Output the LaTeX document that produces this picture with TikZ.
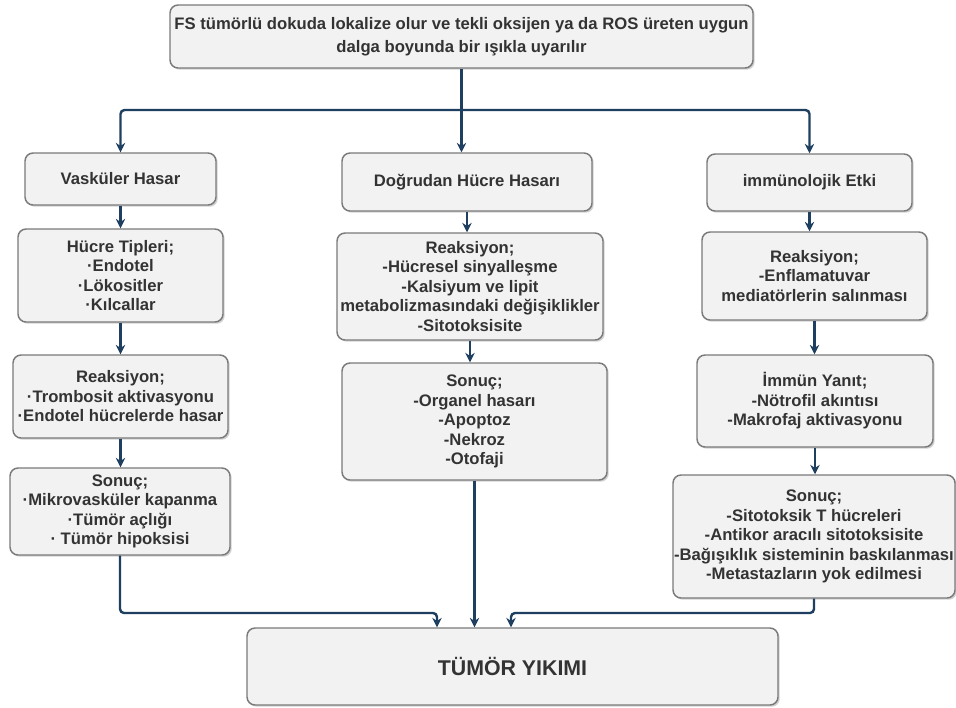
\documentclass[tikz,border=0pt]{standalone}
\usepackage{fontspec}
\setmainfont{Liberation Sans}
\usetikzlibrary{arrows.meta,shadows}
\definecolor{lacivert}{HTML}{1F3F60}
\definecolor{kutuici}{HTML}{F2F2F2}
\definecolor{kutucizgi}{HTML}{7A7A7A}
\definecolor{yazi}{HTML}{333333}
\tikzset{
  kutu/.style={draw=kutucizgi, fill=kutuici, line width=1.1pt, rounded corners=6pt,
    align=center, text=yazi, inner sep=0pt,
    font=\bfseries\fontsize{12.5}{14.6}\selectfont,
    drop shadow={shadow xshift=1.3pt, shadow yshift=-1.3pt, fill=black!35}},
  boyut/.style 2 args={minimum width=#1*0.75pt, minimum height=#2*0.75pt},
  ok/.style={->, draw=lacivert, line width=1.8pt, rounded corners=3pt}
}
\begin{document}
\begin{tikzpicture}[x=0.75pt, y=-0.75pt, >={Stealth[length=7pt,width=7pt]}]
\useasboundingbox (0,0) rectangle (956,707);
\fill[white] (0,0) rectangle (956,707);
\node[kutu, boyut={583}{63}, font=\bfseries\fontsize{12.5}{17}\selectfont] (top) at (461.5,36.5)
  {FS tümörlü dokuda lokalize olur ve tekli oksijen ya da ROS üreten uygun\\dalga boyunda bir ışıkla uyarılır};
\node[kutu, boyut={191}{52}] (vas) at (120.5,179) {Vasküler Hasar};
\node[kutu, boyut={250}{58}] (dog) at (467,182) {Doğrudan Hücre Hasarı};
\node[kutu, boyut={205}{57}] (imm) at (809.5,182.5) {immünolojik Etki};
\node[kutu, boyut={205}{93}] (hucre) at (120.5,275.5) {Hücre Tipleri;\\·Endotel\\·Lökositler\\·Kılcallar};
\node[kutu, boyut={215}{83}] (reakL) at (120.5,396.5) {Reaksiyon;\\·Trombosit aktivasyonu\\·Endotel hücrelerde hasar};
\node[kutu, boyut={220}{87}] (sonucL) at (120,511.5) {Sonuç;\\·Mikrovasküler kapanma\\·Tümör açlığı\\· Tümör hipoksisi};
\node[kutu, boyut={266}{107}] (reakM) at (470,286.5) {Reaksiyon;\\-Hücresel sinyalleşme\\-Kalsiyum ve lipit\\metabolizmasındaki değişiklikler\\-Sitotoksisite};
\node[kutu, boyut={265}{117}] (sonucM) at (474.5,421.5) {Sonuç;\\-Organel hasarı\\-Apoptoz\\-Nekroz\\-Otofaji};
\node[kutu, boyut={225}{88}] (reakR) at (814.5,276) {Reaksiyon;\\-Enflamatuvar\\mediatörlerin salınması};
\node[kutu, boyut={236}{92}] (immun) at (815,401) {İmmün Yanıt;\\-Nötrofil akıntısı\\-Makrofaj aktivasyonu};
\node[kutu, boyut={282}{123}] (sonucR) at (814,536.5) {Sonuç;\\-Sitotoksik T hücreleri\\-Antikor aracılı sitotoksisite\\-Bağışıklık sisteminin baskılanması\\-Metastazların yok edilmesi};
\node[kutu, boyut={531}{77}, font=\bfseries\fontsize{16}{19}\selectfont] (final) at (512.5,666.5) {TÜMÖR YIKIMI};
\coordinate (ayrim) at (461.5,110);
\coordinate (solgiris) at (437,613);
\coordinate (saggiris) at (511,613);
\draw[ok, -] (top) -- (ayrim);
\draw[ok] (ayrim) -| (vas);
\draw[ok] (ayrim) -| (imm);
\draw[ok] (ayrim) -- (ayrim |- dog.north);
\draw[ok] (vas) -- (vas |- hucre.north);
\draw[ok] (hucre) -- (hucre |- reakL.north);
\draw[ok] (reakL) -- (reakL |- sonucL.north);
\draw[ok] (dog) -- (dog |- reakM.north);
\draw[ok] (reakM) -- (reakM |- sonucM.north);
\draw[ok] (imm) -- (imm |- reakR.north);
\draw[ok] (reakR) -- (reakR |- immun.north);
\draw[ok] (immun) -- (immun |- sonucR.north);
\draw[ok] (sonucL) |- (solgiris) -- (solgiris |- final.north);
\draw[ok] (sonucM) -- (sonucM |- final.north);
\draw[ok] (sonucR) |- (saggiris) -- (saggiris |- final.north);
\end{tikzpicture}
\end{document}
